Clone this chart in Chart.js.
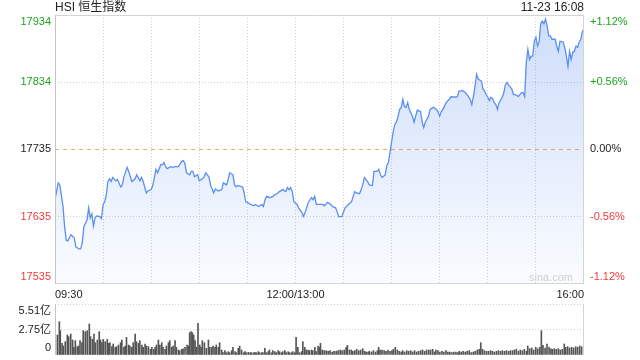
<!DOCTYPE html>
<html>
<head>
<meta charset="utf-8">
<script src="https://cdn.jsdelivr.net/npm/chart.js@4.4.0/dist/chart.umd.min.js"></script>
<style>
html, body { margin: 0; padding: 0; background: #fff; }
#wrap { position: relative; width: 640px; height: 360px; }
#priceChart { position: absolute; left: 0; top: 0; }
#volChart { position: absolute; left: 0; top: 300px; }
</style>
</head>
<body>
<div id="wrap">
  <canvas id="priceChart" width="640" height="300"></canvas>
  <canvas id="volChart" width="640" height="60"></canvas>
</div>
<script>
// chart data
const chartTitle = 'HSI 恒生指数';
const stamp = '11-23 16:08';
const prevClose = 17735;

// minutes after 09:30 on the trading clock (lunch break removed)
const times = [0,2,3,5,6,7,8,10,12,13,15,16,17,18,20,21,22,23,24,25,26,28,29,30,31,32,33,34,35,36,38,39,41,42,43,45,46,47,48,50,51,53,54,55,57,58,60,61,63,64,66,67,68,69,70,72,73,75,77,79,80,81,82,84,85,86,87,89,90,92,93,94,96,97,99,100,102,104,105,107,108,109,111,112,113,114,117,118,119,120,122,124,125,127,129,130,131,132,134,136,137,139,140,142,144,145,146,147,148,149,151,152,154,155,156,157,158,160,161,162,163,165,167,168,170,172,173,175,176,177,179,180,181,183,185,186,187,188,190,191,192,193,195,196,198,199,201,202,203,204,206,207,208,209,210,211,212,213,214,215,216,217,218,219,220,221,223,224,225,226,228,229,230,231,233,234,236,238,239,240,241,242,244,246,247,249,251,252,253,254,256,257,259,260,261,262,263,264,266,267,268,269,270,271,272,273,274,275,276,277,279,280,281,282,283,284,285,286,287,288,289,290,291,292,293,294,295,296,297,298,299,300,301,302,303,304,305,306,307,308,309,310,312,313,314,315,317,318,319,320,321,322,323,324,325,326,327,328,329,330];
const prices = [17660,17685,17682,17650,17620,17600,17599,17608,17603,17590,17587,17587,17596,17620,17630,17648,17633,17639,17621,17633,17636,17635,17632,17653,17657,17667,17687,17691,17687,17693,17688,17690,17679,17682,17694,17708,17702,17694,17687,17691,17697,17688,17693,17687,17670,17673,17675,17681,17705,17700,17712,17712,17715,17709,17706,17709,17708,17709,17709,17717,17718,17714,17700,17697,17702,17702,17694,17697,17688,17691,17694,17700,17694,17682,17670,17676,17673,17675,17685,17682,17690,17700,17697,17682,17679,17681,17679,17670,17657,17656,17653,17651,17653,17650,17653,17650,17660,17665,17663,17665,17667,17670,17672,17675,17672,17678,17675,17678,17672,17657,17653,17648,17641,17635,17641,17648,17656,17663,17660,17665,17653,17653,17653,17651,17656,17653,17650,17648,17642,17635,17635,17642,17648,17653,17657,17665,17672,17670,17669,17675,17682,17693,17687,17682,17681,17702,17702,17705,17697,17693,17697,17711,17715,17731,17746,17761,17772,17775,17784,17794,17797,17809,17798,17797,17804,17794,17784,17775,17784,17793,17791,17776,17767,17775,17784,17794,17797,17794,17790,17784,17791,17794,17804,17809,17813,17812,17813,17821,17821,17822,17819,17816,17809,17801,17813,17828,17846,17839,17836,17824,17821,17816,17812,17807,17812,17810,17804,17801,17794,17804,17812,17819,17831,17834,17830,17827,17824,17816,17816,17815,17813,17816,17819,17819,17813,17864,17883,17868,17873,17873,17895,17901,17888,17894,17921,17925,17921,17928,17918,17903,17903,17898,17898,17888,17880,17895,17894,17886,17873,17858,17880,17868,17879,17880,17888,17886,17894,17898,17910,17913];

// volume bars: minute on the same clock, and size in 亿
const volTimes = [0,1.5,2.7,3.3,4.4,5.2,6.4,7.7,8.5,9.8,
  11.0,11.8,12.7,13.9,14.7,15.6,16.8,17.6,18.9,20.1,
  21.4,22.2,23.4,24.3,25.1,26.4,27.6,28.4,29.3,30.1,
  31.3,32.6,33.4,34.2,35.5,36.3,37.6,38.4,39.6,40.9,
  41.7,43.0,43.8,44.6,45.9,46.7,47.9,48.8,50.0,50.8,
  52.1,52.9,54.2,55.0,56.2,57.1,58.3,59.6,60.4,61.6,
  62.5,63.3,64.5,65.4,66.6,67.4,68.7,69.5,70.8,71.6,
  72.8,73.7,74.9,75.7,77.0,77.8,79.1,79.9,81.1,82.4,
  83.2,84.0,84.9,85.7,86.5,87.4,88.2,89.2,90.3,91.1,
  91.9,93.2,94.4,95.7,96.5,97.7,98.6,99.8,100.6,101.9,
  102.7,104.0,104.8,106.0,106.9,108.1,108.9,110.2,111.0,112.3,
  113.1,114.3,115.2,116.4,117.7,118.5,119.3,120.6,121.8,122.6,
  123.9,124.7,125.5,126.8,127.6,128.9,129.7,130.9,131.8,133.0,
  133.8,135.1,135.9,137.2,138.0,139.2,140.1,141.3,142.1,143.4,
  144.2,145.5,146.3,147.5,148.4,149.6,150.4,151.5,152.5,153.8,
  154.6,155.8,156.7,157.9,158.7,160.0,160.8,162.1,162.9,164.1,
  165.0,165.6,166.7,167.9,169.2,170.4,171.6,172.9,174.1,175.4,
  176.6,177.9,179.1,180.4,181.6,182.4,183.7,184.9,185.8,187.0,
  188.2,189.5,190.7,192.0,193.2,194.1,195.3,196.1,197.4,198.6,
  199.9,201.1,201.9,202.8,204.0,205.3,206.5,207.7,209.0,210.2,
  211.1,212.3,213.6,214.8,216.0,216.9,218.1,219.4,220.6,221.9,
  223.1,224.3,225.6,226.8,228.1,229.3,230.6,231.8,233.1,234.3,
  235.6,236.8,237.6,238.9,240.1,241.4,242.6,243.9,245.1,246.3,
  247.6,248.8,250.1,251.3,252.2,253.4,254.6,255.9,257.1,258.4,
  259.6,260.9,262.1,263.4,264.6,265.6,266.7,267.9,269.2,270.4,
  271.7,272.9,274.1,275.4,276.6,277.9,279.1,280.4,281.6,282.9,
  284.1,285.4,286.6,287.8,289.1,290.3,291.6,292.8,294.1,294.9,
  296.1,297.4,298.6,299.9,301.1,302.4,303.4,304.4,305.7,306.9,
  308.2,309.4,310.3,311.5,312.7,314.0,315.2,316.5,317.7,318.6,
  319.8,321.0,322.3,323.5,324.8,326.0,327.3,328.5,330];
const volumes = [5.40,2.16,3.60,2.63,1.26,0.97,1.44,2.16,1.98,2.27,
  1.62,0.83,1.55,0.90,0.97,1.55,1.33,2.63,2.52,2.63,
  3.35,1.98,1.69,2.27,1.33,1.62,2.52,1.62,1.33,1.69,
  1.44,1.69,1.26,1.33,0.90,1.19,0.83,0.90,1.08,1.33,
  1.62,0.83,0.97,1.91,1.08,0.97,0.83,1.33,2.27,1.44,
  1.26,1.55,1.08,0.83,1.19,0.97,0.90,0.61,0.83,0.61,
  0.83,1.08,1.62,1.08,1.33,0.83,0.61,0.97,1.33,1.55,
  0.83,0.97,1.55,0.83,0.54,0.47,0.61,0.68,0.83,1.08,
  0.97,2.41,2.52,2.41,2.16,1.55,0.83,3.42,1.08,0.83,
  1.55,1.33,0.72,1.62,0.83,0.83,0.97,0.83,1.08,0.83,
  1.33,0.54,0.25,0.47,0.25,0.36,0.25,0.47,0.83,0.36,
  0.25,0.72,0.97,0.54,0.25,0.36,0.25,0.29,0.25,0.25,
  0.25,0.25,0.25,0.36,0.25,0.25,0.25,0.72,0.25,0.36,
  0.54,0.25,0.47,0.36,0.25,0.47,0.36,0.25,0.36,0.47,
  0.25,0.36,0.25,0.25,0.36,0.25,1.91,0.83,0.25,0.36,
  1.44,0.83,0.54,0.54,0.47,0.54,0.47,0.83,0.36,0.97,
  0.83,1.26,0.54,0.47,0.47,0.40,0.47,0.32,0.40,0.40,
  0.47,0.54,0.47,0.54,0.83,1.04,0.54,0.54,0.40,0.47,
  0.61,0.47,0.54,0.68,0.40,0.32,0.32,0.40,0.32,0.47,
  0.32,0.47,0.83,0.54,0.54,0.47,0.40,0.54,0.40,0.47,
  0.61,0.83,0.54,0.40,0.32,0.47,0.32,0.47,0.40,0.47,
  0.32,0.47,0.32,0.40,0.47,0.54,0.40,0.54,0.54,0.54,
  0.61,0.32,0.54,0.47,0.32,0.40,0.32,0.47,0.32,0.32,
  0.25,0.32,0.32,0.25,0.40,0.32,0.40,0.32,0.40,0.47,
  0.25,0.32,0.40,0.54,0.61,1.33,0.61,0.47,0.40,0.40,
  0.47,0.40,0.32,0.40,0.47,0.40,0.47,0.40,0.47,0.40,
  0.47,0.47,0.54,0.61,0.40,0.54,0.47,0.61,0.40,0.97,
  0.68,0.76,0.54,0.83,0.68,0.83,2.63,1.04,0.76,1.19,
  0.83,0.68,0.61,0.68,0.61,0.68,0.54,0.61,1.19,0.83,
  0.90,0.76,0.83,0.76,0.90,0.83,0.97,0.90,3.24];

// axes
const priceTicks = [17535, 17635, 17735, 17834, 17934];
const pctLabels = ['-1.12%', '-0.56%', '0.00%', '+0.56%', '+1.12%'];
const gridMinutes = [0,30,60,90,120,150,180,210,240,270,300,330];
const xTickMinutes = [0, 150, 330];
const xTickLabels = ['09:30', '12:00/13:00', '16:00'];
const volTicks = [0, 2.75, 5.51];
const volLabels = ['0', '2.75亿', '5.51亿'];

const FONT = "'Liberation Sans', Arial, 'Noto Sans CJK SC', sans-serif";
Chart.defaults.font.family = FONT;
Chart.defaults.font.size = 11;

const GREEN = '#1ea31e';
const RED = '#f23a3a';

function priceColor(v) {
    if (v > prevClose) return GREEN;
    if (v < prevClose) return RED;
    return '#222';
}

// push the top label down and the bottom label up, like the original
function edgeLabel(text, i, n) {
    if (i === n - 1) return ['', text];
    if (i === 0) return [text, ''];
    return text;
}

// keep the plot box where the original has it
function fixWidth(w) {
    return function (s) {
        s.width = w;
        s.paddingTop = 0;
        s.paddingBottom = 0;
    };
}

let frame = {
    id: 'frame',
    afterDraw(chart) {
        const ctx = chart.ctx;
        const a = chart.chartArea;
        ctx.save();
        ctx.lineWidth = 1;
        if (chart.canvas.id === 'priceChart') {
            ctx.strokeStyle = '#d4d4d4';
            ctx.beginPath();
            ctx.moveTo(a.left, a.top + 0.5); ctx.lineTo(a.right, a.top + 0.5);
            ctx.moveTo(a.right - 0.5, a.top); ctx.lineTo(a.right - 0.5, a.bottom);
            ctx.moveTo(a.left, a.bottom - 0.5); ctx.lineTo(a.right, a.bottom - 0.5);
            ctx.stroke();
            ctx.strokeStyle = '#c4c4c4';
            ctx.beginPath();
            ctx.moveTo(a.left + 0.5, a.top); ctx.lineTo(a.left + 0.5, a.bottom);
            ctx.stroke();

            ctx.font = '12px ' + FONT;
            ctx.fillStyle = '#222';
            ctx.textBaseline = 'middle';
            ctx.textAlign = 'left';
            ctx.fillText(chartTitle, a.left, 8);
            ctx.textAlign = 'right';
            ctx.fillText(stamp, a.right, 8);

            ctx.font = '11px ' + FONT;
            ctx.fillStyle = '#cfcfcf';
            ctx.fillText('sina.com', a.right - 11, a.bottom - 6);
        } else {
            ctx.strokeStyle = '#c4c4c4';
            ctx.beginPath();
            ctx.moveTo(a.left + 0.5, a.top); ctx.lineTo(a.left + 0.5, a.bottom);
            ctx.stroke();
            ctx.strokeStyle = '#d4d4d4';
            ctx.beginPath();
            ctx.moveTo(a.right - 0.5, a.top); ctx.lineTo(a.right - 0.5, a.bottom);
            ctx.stroke();
        }
        ctx.restore();
    }
};

let points = times.map((t, i) => ({x: t, y: prices[i]}));
let volPoints = volTimes.map((t, i) => ({x: t, y: volumes[i]}));

let priceCtx = document.getElementById('priceChart').getContext('2d');
let priceChart = new Chart(priceCtx, {
    type: 'line',
    data: {
        datasets: [{
            data: points,
            yAxisID: 'y',
            borderColor: '#5b8ff0',
            borderWidth: 1.3,
            pointRadius: 0,
            tension: 0,
            fill: 'start',
            backgroundColor: function (c) {
                const a = c.chart.chartArea;
                if (!a) return 'rgba(91,143,240,0.2)';
                const g = c.chart.ctx.createLinearGradient(0, a.top, 0, a.bottom);
                g.addColorStop(0, 'rgba(91,143,240,0.30)');
                g.addColorStop(1, 'rgba(91,143,240,0.03)');
                return g;
            }
        }]
    },
    options: {
        responsive: false,
        animation: false,
        layout: {padding: {top: 15, left: 0, right: 0, bottom: 0}},
        plugins: {legend: {display: false}, tooltip: {enabled: false}},
        scales: {
            x: {
                type: 'linear', min: 0, max: 330,
                afterBuildTicks: s => { s.ticks = gridMinutes.map(v => ({value: v})); },
                afterFit: s => { s.height = 16; s.paddingLeft = 0; s.paddingRight = 0; },
                ticks: {
                    autoSkip: false, maxRotation: 0, align: 'inner', padding: 4, color: '#222',
                    callback: v => {
                        const i = xTickMinutes.indexOf(v);
                        return i >= 0 ? xTickLabels[i] : '';
                    }
                },
                grid: {drawTicks: false, color: c => (c.index === 0 || c.index === gridMinutes.length - 1) ? 'rgba(0,0,0,0)' : '#cfcfcf'},
                border: {display: false, dash: c => c.tick ? [1, 2] : []}
            },
            y: {
                position: 'left', min: priceTicks[0], max: priceTicks[priceTicks.length - 1],
                afterBuildTicks: s => { s.ticks = priceTicks.map(v => ({value: v})); },
                afterFit: fixWidth(55),
                ticks: {
                    autoSkip: false, padding: 4,
                    color: c => priceColor(c.tick.value),
                    callback: (v, i) => edgeLabel(String(v), i, priceTicks.length)
                },
                grid: {
                    drawTicks: false,
                    color: c => {
                        if (!c.tick) return 'rgba(0,0,0,0)';
                        if (c.tick.value === prevClose) return '#f3a470';
                        if (c.index === 0 || c.index === priceTicks.length - 1) return 'rgba(0,0,0,0)';
                        return '#cfcfcf';
                    }
                },
                border: {display: false, dash: c => (c.tick && c.tick.value === prevClose) ? [4, 4] : (c.tick ? [1, 2] : [])}
            },
            yR: {
                position: 'right', min: priceTicks[0], max: priceTicks[priceTicks.length - 1],
                afterBuildTicks: s => { s.ticks = priceTicks.map(v => ({value: v})); },
                afterFit: fixWidth(56),
                ticks: {
                    autoSkip: false, padding: 6,
                    color: c => priceColor(c.tick.value),
                    callback: (v, i) => edgeLabel(pctLabels[i], i, pctLabels.length)
                },
                grid: {display: false, drawTicks: false},
                border: {display: false}
            }
        }
    },
    plugins: [frame]
});

let volCtx = document.getElementById('volChart').getContext('2d');
let volChart = new Chart(volCtx, {
    type: 'bar',
    data: {
        datasets: [{
            data: volPoints,
            backgroundColor: '#555555',
            barThickness: 1
        }]
    },
    options: {
        responsive: false,
        animation: false,
        layout: {padding: {top: 4, bottom: 5, left: 0, right: 56}},
        plugins: {legend: {display: false}, tooltip: {enabled: false}},
        scales: {
            x: {type: 'linear', min: 0, max: 330, display: false, offset: false},
            y: {
                min: 0, max: volTicks[volTicks.length - 1],
                afterBuildTicks: s => { s.ticks = volTicks.map(v => ({value: v})); },
                afterFit: fixWidth(55),
                ticks: {
                    autoSkip: false, padding: 4, color: '#222',
                    callback: (v, i) => edgeLabel(volLabels[i], i, volLabels.length)
                },
                grid: {drawTicks: false, color: c => (c.tick && c.index > 0) ? '#cfcfcf' : 'rgba(0,0,0,0)'},
                border: {display: false, dash: c => c.tick ? [1, 2] : []}
            }
        }
    },
    plugins: [frame]
});
</script>
</body>
</html>
